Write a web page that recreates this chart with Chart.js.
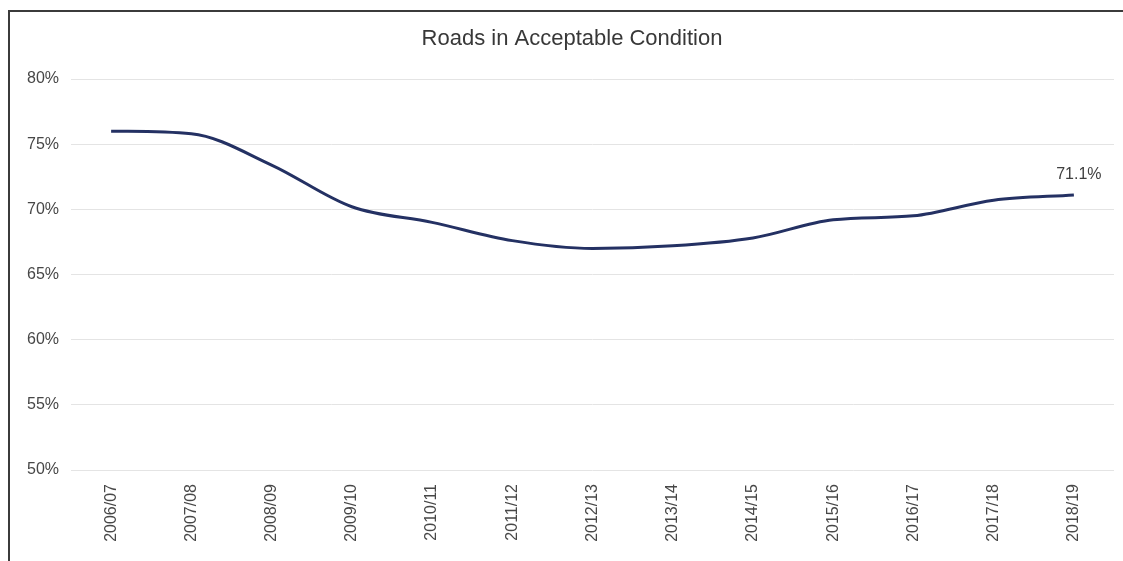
<!DOCTYPE html>
<html>
<head>
<meta charset="utf-8">
<title>Roads in Acceptable Condition</title>
<script src="https://cdn.jsdelivr.net/npm/chart.js@4/dist/chart.umd.min.js"></script>
<style>
  html, body { margin: 0; padding: 0; background: #ffffff; overflow: hidden; }
  #wrap { position: relative; width: 1123px; height: 561px; }
  #chart { position: absolute; left: 0; top: 0; }
  #frame {
    position: absolute; left: 8px; top: 10px; width: 1200px; height: 600px;
    border-top: 2px solid #3b3b3b; border-left: 2px solid #3b3b3b;
    pointer-events: none;
  }
</style>
</head>
<body>
<div id="wrap">
  <canvas id="chart" width="1123" height="561"></canvas>
  <div id="frame"></div>
</div>
<script>
// Financial years on the x axis
const years = ['2006/07', '2007/08', '2008/09', '2009/10', '2010/11', '2011/12', '2012/13',
               '2013/14', '2014/15', '2015/16', '2016/17', '2017/18', '2018/19'];
// Share of roads in acceptable condition (%)
const acceptable = [76.0, 75.8, 73.4, 70.2, 69.0, 67.6, 67.0, 67.2, 67.8, 69.2, 69.5, 70.7, 71.1];
// Y axis tick values (%)
const yTicks = [50, 55, 60, 65, 70, 75, 80];

const chartTitle = 'Roads in Acceptable Condition';
const FONT = "'Liberation Sans', Arial, sans-serif";

// Heading, centred over the whole framed chart (which runs on past the right edge)
const heading = {
  id: 'heading',
  afterDraw(chart) {
    const ctx = chart.ctx;
    ctx.save();
    ctx.font = '22px ' + FONT;
    ctx.fillStyle = '#383838';
    ctx.textAlign = 'center';
    ctx.textBaseline = 'middle';
    ctx.fillText(chartTitle, 572, 39);
    ctx.restore();
  }
};

// Writes the latest value above the end of the line
const endLabel = {
  id: 'endLabel',
  afterDatasetsDraw(chart) {
    const meta = chart.getDatasetMeta(0);
    const i = acceptable.length - 1;
    const pt = meta.data[i];
    const ctx = chart.ctx;
    ctx.save();
    ctx.font = '16px ' + FONT;
    ctx.fillStyle = '#404040';
    ctx.textAlign = 'center';
    ctx.textBaseline = 'middle';
    ctx.fillText(acceptable[i].toFixed(1) + '%', pt.x + 5, pt.y - 20);
    ctx.restore();
  }
};

new Chart(document.getElementById('chart'), {
  type: 'line',
  data: {
    labels: years,
    datasets: [{
      data: acceptable,
      borderColor: '#243163',
      borderWidth: 3,
      pointRadius: 0,
      cubicInterpolationMode: 'monotone',
      fill: false
    }]
  },
  options: {
    responsive: false,
    animation: false,
    devicePixelRatio: 1,
    layout: { padding: { left: 0, right: 9, top: 79, bottom: 0 } },
    plugins: {
      legend: { display: false },
      tooltip: { enabled: false },
      title: { display: false }
    },
    scales: {
      x: {
        type: 'category',
        offset: true,
        grid: { display: false },
        border: { display: false },
        ticks: {
          color: '#474747',
          font: { family: FONT, size: 16 },
          minRotation: 90,
          maxRotation: 90,
          padding: 6,
          autoSkip: false
        },
        afterFit(scale) { scale.height = 91; }
      },
      y: {
        min: yTicks[0],
        max: yTicks[yTicks.length - 1],
        afterBuildTicks(scale) { scale.ticks = yTicks.map(v => ({ value: v })); },
        grid: { color: '#e4e4e4', lineWidth: 1, drawTicks: false },
        border: { display: false },
        ticks: {
          color: '#474747',
          font: { family: FONT, size: 16 },
          padding: 12,
          callback: v => v + '%'
        },
        afterFit(scale) { scale.width = 71; }
      }
    }
  },
  plugins: [heading, endLabel]
});
</script>
</body>
</html>
